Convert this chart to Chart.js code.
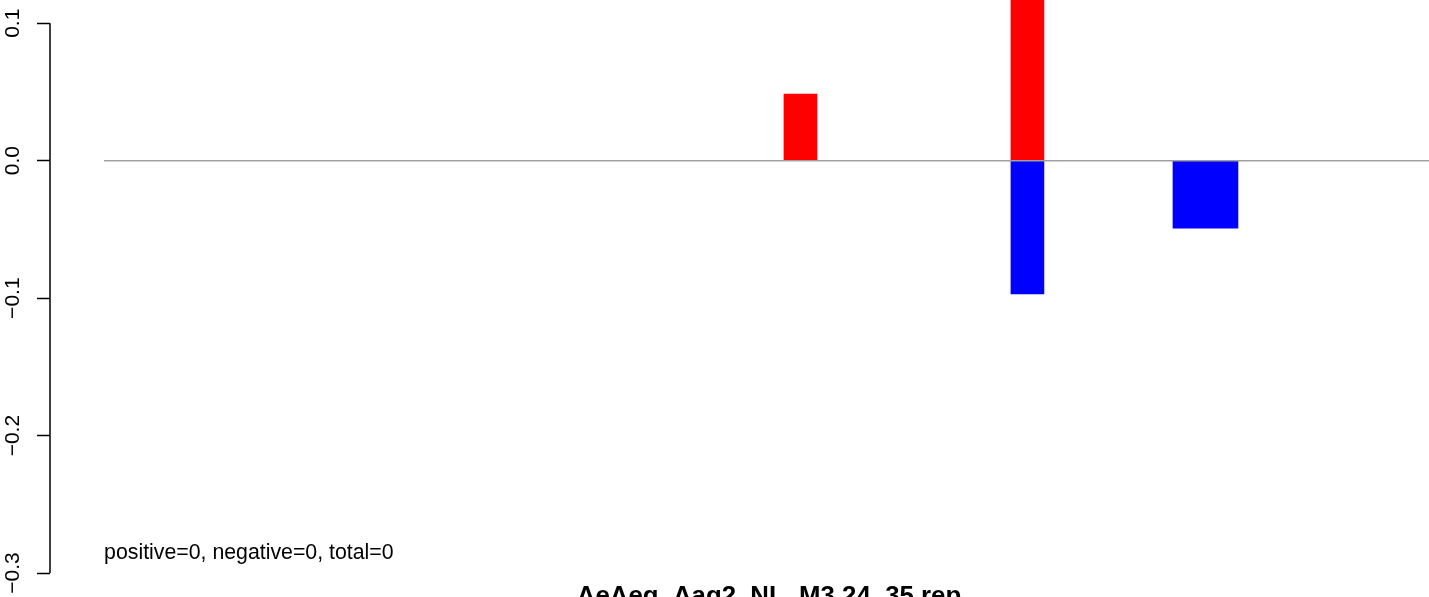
<!DOCTYPE html>
<html>
<head>
<meta charset="utf-8">
<script src="https://cdn.jsdelivr.net/npm/chart.js@4/dist/chart.umd.min.js"></script>
<style>
  html, body { margin: 0; padding: 0; background: #fff; }
  #wrap { width: 1429px; height: 597px; position: relative; }
</style>
</head>
<body>
<div id="wrap"><canvas id="c" width="1429" height="597"></canvas></div>
<script>
// ---- data ----
const chartTitle = "AeAeg_Aag2_NL_M3.24_35.rep";
const noteText = "positive=0, negative=0, total=0";
const regionRange = [3.92, 100];            // x extent of the region (baseline)
const positivePos = [54.42, 70.88];         // x of positive bars
const positiveVal = [0.0485, 0.146];        // second bar runs off the top
const negativePos = [70.88];
const negativeVal = [-0.097];
const negativeWidePos = [83.79];
const negativeWideVal = [-0.049];
const yTicks = [0.1, 0.0, -0.1, -0.2, -0.3];
const yTickLabels = ["0.1", "0.0", "\u22120.1", "\u22120.2", "\u22120.3"];
const yRange = [-0.31743, 0.11692];
const xRange = [0, 100];

const toPts = (xs, ys) => xs.map((x, i) => ({ x: x, y: ys[i] }));

const FONT = "'Liberation Sans', Arial, sans-serif";

const decorations = {
  id: 'decorations',
  afterDraw(chart) {
    const ctx = chart.ctx;
    const ys = chart.scales.y, xs = chart.scales.x;
    const left = chart.chartArea.left;
    ctx.save();
    // y axis line spanning the tick range only
    ctx.strokeStyle = '#000';
    ctx.lineWidth = 1.5;
    ctx.beginPath();
    ctx.moveTo(left, ys.getPixelForValue(yTicks[0]));
    ctx.lineTo(left, ys.getPixelForValue(yTicks[yTicks.length - 1]));
    ctx.stroke();
    // note text
    ctx.fillStyle = '#000';
    ctx.font = "21.3px " + FONT;
    ctx.textAlign = 'left';
    ctx.textBaseline = 'alphabetic';
    ctx.fillText(noteText, xs.getPixelForValue(regionRange[0]), 559);
    // title (cut off at bottom like the reference)
    ctx.font = "bold 25.8px " + FONT;
    ctx.textAlign = 'center';
    ctx.fillText(chartTitle, 769, 604);
    ctx.restore();
  }
};

new Chart(document.getElementById('c'), {
  type: 'bar',
  data: {
    datasets: [
      {
        type: 'line',
        label: 'baseline',
        data: toPts(regionRange, [0, 0]),
        borderColor: '#a0a0a0',
        borderWidth: 1.5,
        pointRadius: 0,
        order: 0
      },
      {
        label: 'positive',
        data: toPts(positivePos, positiveVal),
        backgroundColor: '#ff0000',
        barThickness: 33,
        grouped: false,
        order: 1
      },
      {
        label: 'negative',
        data: toPts(negativePos, negativeVal),
        backgroundColor: '#0000ff',
        barThickness: 33,
        grouped: false,
        order: 1
      },
      {
        label: 'negative (wide)',
        data: toPts(negativeWidePos, negativeWideVal),
        backgroundColor: '#0000ff',
        barThickness: 65,
        grouped: false,
        order: 1
      }
    ]
  },
  options: {
    responsive: false,
    animation: false,
    events: [],
    layout: { padding: 0 },
    plugins: {
      legend: { display: false },
      title: { display: false },
      tooltip: { enabled: false }
    },
    scales: {
      x: {
        type: 'linear',
        min: xRange[0],
        max: xRange[1],
        display: false,
        offset: false
      },
      y: {
        type: 'linear',
        min: yRange[0],
        max: yRange[1],
        position: 'left',
        afterBuildTicks(scale) {
          scale.ticks = yTicks.map(v => ({ value: v }));
        },
        afterFit(scale) {
          scale.width = 50;
          scale.paddingTop = 0;
          scale.paddingBottom = 0;
        },
        border: { display: false },
        grid: {
          drawOnChartArea: false,
          drawTicks: true,
          tickLength: 13,
          tickColor: '#000',
          tickWidth: 1.5,
          color: '#000'
        },
        ticks: {
          autoSkip: false,
          minRotation: 90,
          maxRotation: 90,
          crossAlign: 'center',
          padding: 3,
          color: '#000',
          font: { family: FONT, size: 21 },
          callback(value) {
            const i = yTicks.findIndex(t => Math.abs(t - value) < 1e-9);
            return i >= 0 ? yTickLabels[i] : '';
          }
        }
      }
    }
  },
  plugins: [decorations]
});
</script>
</body>
</html>
